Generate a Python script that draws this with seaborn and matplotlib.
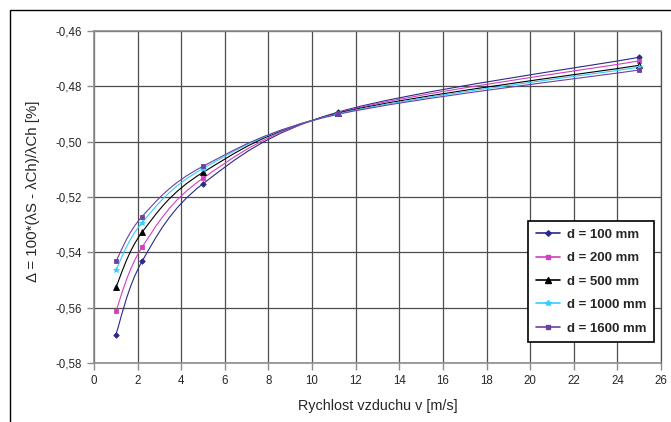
import numpy as np
import pandas as pd
import matplotlib
matplotlib.use("Agg")
import matplotlib.pyplot as plt
from matplotlib.path import Path
from matplotlib.patches import PathPatch, Rectangle
from matplotlib.lines import Line2D
import seaborn as sns

# data
speed = [1, 2.2, 5, 11.2, 25]
d100 = [-0.5698, -0.5433, -0.5152, -0.4893, -0.4695]
d200 = [-0.5613, -0.5382, -0.5132, -0.4895, -0.4708]
d500 = [-0.5527, -0.5328, -0.5111, -0.4897, -0.4724]
d1000 = [-0.5464, -0.5293, -0.5097, -0.4899, -0.4731]
d1600 = [-0.5433, -0.5271, -0.5089, -0.4901, -0.4741]
series_names = ["d = 100 mm", "d = 200 mm", "d = 500 mm", "d = 1000 mm", "d = 1600 mm"]
xticks = list(range(0, 27, 2))
yticks = [-0.58, -0.56, -0.54, -0.52, -0.50, -0.48, -0.46]
ytick_labels = ["-0,58", "-0,56", "-0,54", "-0,52", "-0,50", "-0,48", "-0,46"]

series_values = [d100, d200, d500, d1000, d1600]
df = pd.DataFrame({
    "speed": speed * len(series_names),
    "value": [v for vals in series_values for v in vals],
    "series": [n for n in series_names for _ in speed],
})

colors = dict(zip(series_names, ["#2a2a8a", "#d040c0", "#000000", "#33ccff", "#7040a0"]))
markers = dict(zip(series_names, ["D", "s", "^", "*", "s"]))
msizes = dict(zip(series_names, [2.8, 3.2, 4, 4, 2.8]))

sns.set_theme(style="white")
plt.rcParams["font.family"] = ["Liberation Sans", "DejaVu Sans"]

fig = plt.figure(figsize=(6.71, 4.22), dpi=100)
ax = fig.add_axes([94 / 671, 1 - 363 / 422, 567 / 671, 332 / 422])


def smooth_path(x, y):
    # Excel-like smoothed line (Catmull-Rom as cubic Bezier)
    pts = np.column_stack([x, y])
    n = len(pts)
    verts = [pts[0]]
    codes = [Path.MOVETO]
    for i in range(n - 1):
        p0 = pts[max(i - 1, 0)]
        p1 = pts[i]
        p2 = pts[i + 1]
        p3 = pts[min(i + 2, n - 1)]
        verts += [p1 + (p2 - p0) / 6, p2 - (p3 - p1) / 6, p2]
        codes += [Path.CURVE4] * 3
    return Path(verts, codes)


for name in series_names:
    sub = df[df["series"] == name]
    ax.add_patch(PathPatch(smooth_path(sub["speed"].values, sub["value"].values),
                           fill=False, ec=colors[name], lw=0.8, zorder=3))

sns.lineplot(data=df, x="speed", y="value", hue="series", style="series",
             palette=colors, markers=markers, dashes=False, legend=False,
             ax=ax, zorder=4)
for line, name in zip(ax.lines, series_names):
    line.set_linestyle("none")
    line.set_markeredgecolor(colors[name])
    line.set_markersize(msizes[name])
    line.set_markeredgewidth(0.6)

ax.set_xlim(0, 26)
ax.set_ylim(-0.58, -0.46)
ax.set_xticks(xticks)
ax.set_yticks(yticks)
ax.set_yticklabels(ytick_labels)
ax.tick_params(axis="both", labelsize=8.3, direction="out", length=5, width=1,
               color="#8c8c8c", pad=4, left=True, bottom=True)
ax.grid(True, color="#4d4d4d", lw=0.9)
for side in ["left", "bottom", "top"]:
    ax.spines[side].set_color("#8c8c8c")
    ax.spines[side].set_linewidth(1.2)
ax.spines["right"].set_color("#4d4d4d")
ax.spines["right"].set_linewidth(0.9)

ax.set_xlabel("Rychlost vzduchu v [m/s]", fontsize=10.4)
ax.set_ylabel("Δ = 100*(λS - λCh)/λCh [%]", fontsize=10.8)
ax.xaxis.set_label_coords(0.5, -0.107)
ax.yaxis.set_label_coords(-0.095, 0.518)

handles = [Line2D([], [], color=colors[n], marker=markers[n], markersize=msizes[n],
                  markeredgecolor=colors[n], lw=1.2) for n in series_names]
leg = ax.legend(handles, series_names, loc="lower right", bbox_to_anchor=(0.9996, 0.042),
                prop={"weight": "bold", "size": 9.5}, frameon=True, fancybox=False,
                edgecolor="black", framealpha=1, handlelength=1.8, labelspacing=0.85,
                borderpad=0.6, handletextpad=0.5)
leg.get_frame().set_linewidth(1.2)

fig.patches.append(Rectangle((9.5 / 671, -0.1), 1.2, 1 - 10.5 / 422 + 0.1,
                             transform=fig.transFigure, fill=False, ec="black", lw=1))

fig.savefig("out.png", dpi=100)
